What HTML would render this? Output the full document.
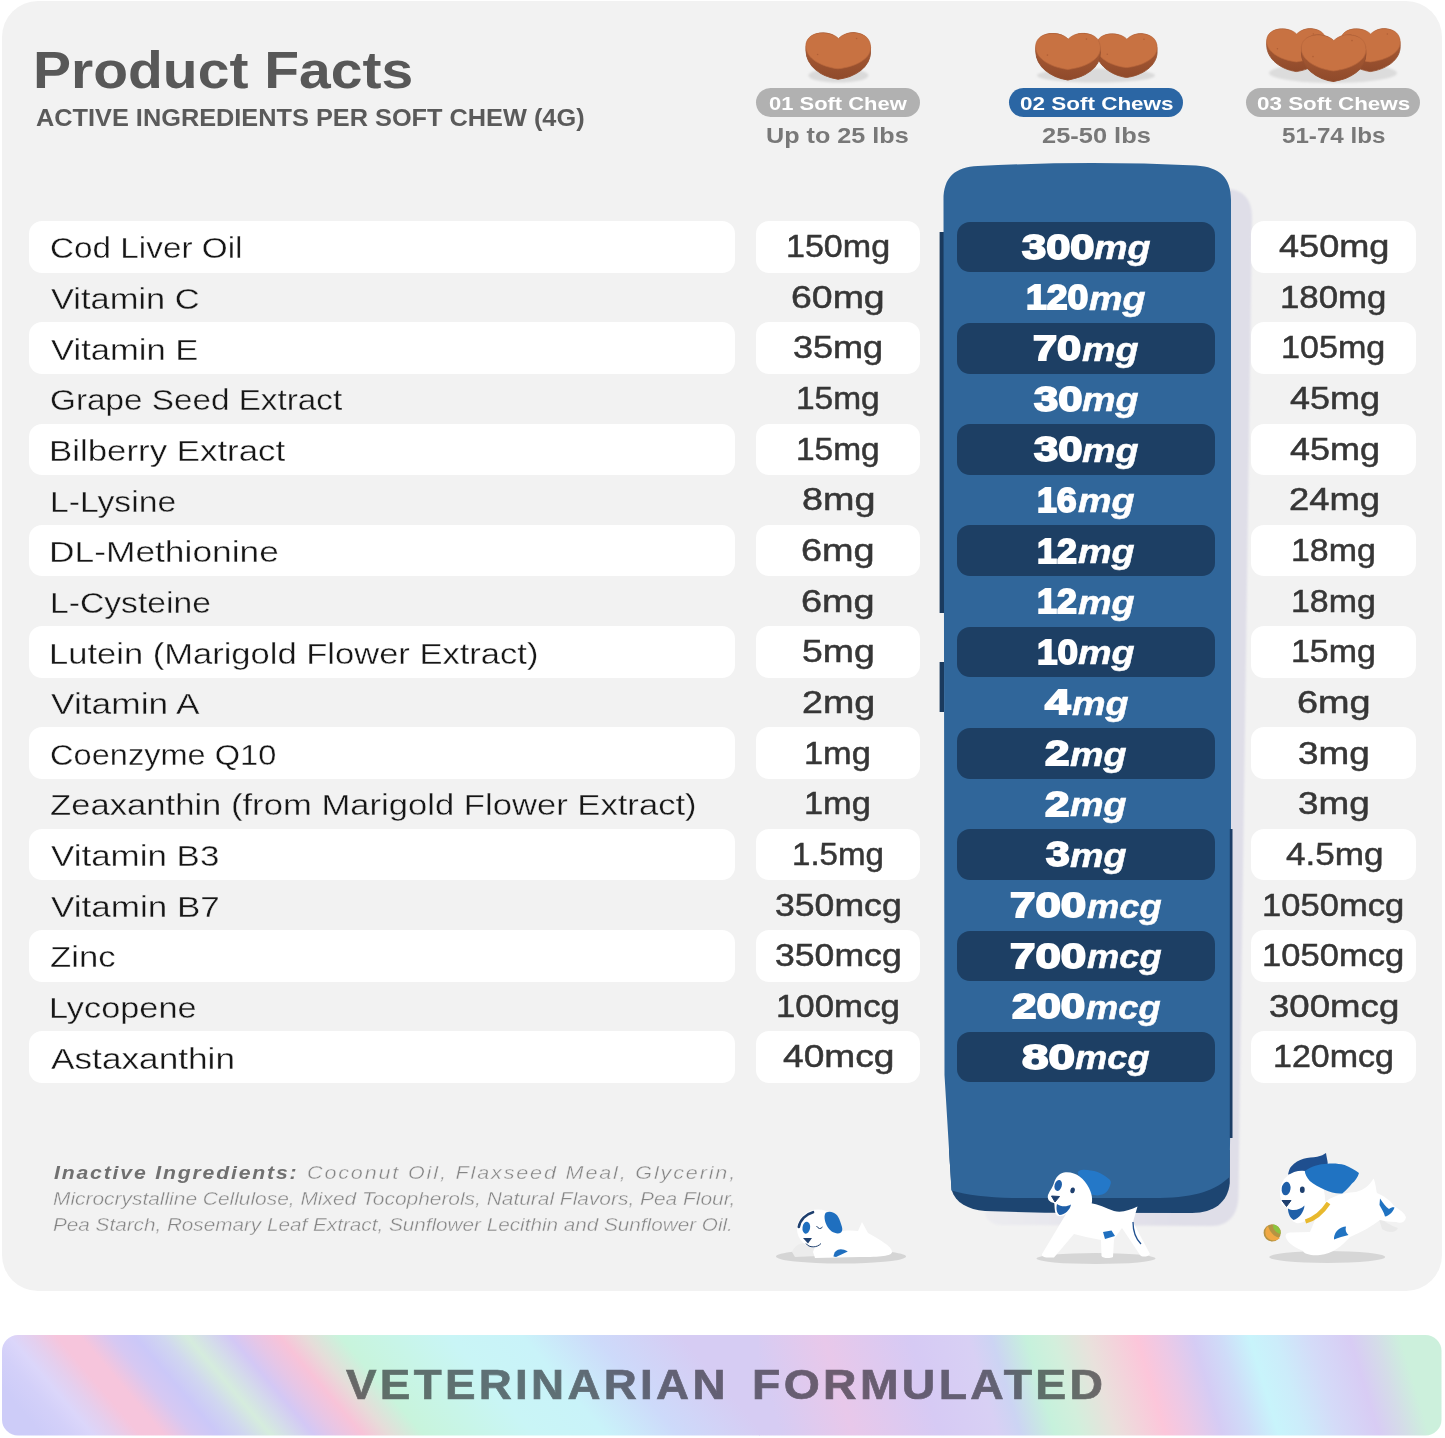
<!DOCTYPE html>
<html><head><meta charset="utf-8"><title>Product Facts</title>
<style>
html,body{margin:0;padding:0;background:#fff}
#pg{position:relative;width:1445px;height:1438px;overflow:hidden;background:#fff;font-family:"Liberation Sans",sans-serif}
.t{position:absolute;white-space:pre;line-height:1;transform-origin:0 0;margin:0}
.ra{-webkit-text-stroke:0.35px #fff}
.rb{-webkit-text-stroke:0.35px #f2f2f2}
.r2{-webkit-text-stroke:0.5px #363636}
.b{-webkit-text-stroke:1.8px #fff}
.v{opacity:0.56;-webkit-text-stroke:0.7px #0c0a10}
.b2{-webkit-text-stroke:0.5px #fff}
.p{position:absolute;background:#fff;border-radius:13px}
.d{position:absolute;background:#1d3f64;border-radius:13px}
#panel{position:absolute;left:2px;top:1px;width:1440px;height:1289.5px;border-radius:36px;background:#f2f2f2}
svg{position:absolute;left:0;top:0}
</style></head><body><div id="pg">
<div id="panel"></div>

<svg width="1445" height="1438" viewBox="0 0 1445 1438">
<defs><linearGradient id="sg" gradientUnits="userSpaceOnUse" x1="985" y1="0" x2="1180" y2="0"><stop offset="0" stop-color="#ececf0"/><stop offset="1" stop-color="#dfdee8"/></linearGradient><filter id="sb" x="-10%" y="-5%" width="120%" height="110%"><feGaussianBlur stdDeviation="1"/></filter></defs>
<!-- shadow of column -->
<path d="M1200,189 L1228,189 C1244,190 1252,200 1252,218 L1238.5,1196 C1238,1214 1229,1226 1212,1226 L1000,1225 C990,1224 985,1218 985,1212 L1200,1100 Z" fill="url(#sg)" filter="url(#sb)"/>
<!-- dark base -->
<path d="M951,1150 L1229.8,1150 L1229.8,1183 C1228,1202 1214,1213 1192,1213 L1045,1212.8 L985,1211 C968,1209.5 955.5,1203 951.6,1190 L949,1150 Z" fill="#1d4571"/>
<!-- left dark edge -->
<rect x="939.6" y="232" width="4.5" height="381" fill="#1a3a5e"/><rect x="939.6" y="662" width="4.5" height="50" fill="#1a3a5e"/>
<!-- main blue -->
<path d="M943.5,200 C943.5,177 955,167 978,166 Q1087,160.5 1196,165.5 C1220,167 1231,178 1231,200 L1231,1080 L1229.5,1177 C1216,1190 1196,1197.5 1160,1198 L1012,1198 C988,1197.5 966,1195 951.5,1190.5 L944.5,1075 Z" fill="#30669a"/>
<rect x="1229.8" y="829" width="2.7" height="309" fill="#1c3d66"/>
</svg>

<div class="p" style="left:28.6px;top:221.0px;width:706.7px;height:51.7px"></div>
<div class="p" style="left:755.8px;top:221.0px;width:164.4px;height:51.7px"></div>
<div class="p" style="left:1251.4px;top:221.0px;width:164.9px;height:51.7px"></div>
<div class="d" style="left:956.6px;top:221.6px;width:258.8px;height:50.7px"></div>
<div class="p" style="left:28.6px;top:322.3px;width:706.7px;height:51.7px"></div>
<div class="p" style="left:755.8px;top:322.3px;width:164.4px;height:51.7px"></div>
<div class="p" style="left:1251.4px;top:322.3px;width:164.9px;height:51.7px"></div>
<div class="d" style="left:956.6px;top:322.9px;width:258.8px;height:50.7px"></div>
<div class="p" style="left:28.6px;top:423.6px;width:706.7px;height:51.7px"></div>
<div class="p" style="left:755.8px;top:423.6px;width:164.4px;height:51.7px"></div>
<div class="p" style="left:1251.4px;top:423.6px;width:164.9px;height:51.7px"></div>
<div class="d" style="left:956.6px;top:424.2px;width:258.8px;height:50.7px"></div>
<div class="p" style="left:28.6px;top:524.8px;width:706.7px;height:51.7px"></div>
<div class="p" style="left:755.8px;top:524.8px;width:164.4px;height:51.7px"></div>
<div class="p" style="left:1251.4px;top:524.8px;width:164.9px;height:51.7px"></div>
<div class="d" style="left:956.6px;top:525.4px;width:258.8px;height:50.7px"></div>
<div class="p" style="left:28.6px;top:626.1px;width:706.7px;height:51.7px"></div>
<div class="p" style="left:755.8px;top:626.1px;width:164.4px;height:51.7px"></div>
<div class="p" style="left:1251.4px;top:626.1px;width:164.9px;height:51.7px"></div>
<div class="d" style="left:956.6px;top:626.7px;width:258.8px;height:50.7px"></div>
<div class="p" style="left:28.6px;top:727.4px;width:706.7px;height:51.7px"></div>
<div class="p" style="left:755.8px;top:727.4px;width:164.4px;height:51.7px"></div>
<div class="p" style="left:1251.4px;top:727.4px;width:164.9px;height:51.7px"></div>
<div class="d" style="left:956.6px;top:728.0px;width:258.8px;height:50.7px"></div>
<div class="p" style="left:28.6px;top:828.7px;width:706.7px;height:51.7px"></div>
<div class="p" style="left:755.8px;top:828.7px;width:164.4px;height:51.7px"></div>
<div class="p" style="left:1251.4px;top:828.7px;width:164.9px;height:51.7px"></div>
<div class="d" style="left:956.6px;top:829.3px;width:258.8px;height:50.7px"></div>
<div class="p" style="left:28.6px;top:930.0px;width:706.7px;height:51.7px"></div>
<div class="p" style="left:755.8px;top:930.0px;width:164.4px;height:51.7px"></div>
<div class="p" style="left:1251.4px;top:930.0px;width:164.9px;height:51.7px"></div>
<div class="d" style="left:956.6px;top:930.6px;width:258.8px;height:50.7px"></div>
<div class="p" style="left:28.6px;top:1031.2px;width:706.7px;height:51.7px"></div>
<div class="p" style="left:755.8px;top:1031.2px;width:164.4px;height:51.7px"></div>
<div class="p" style="left:1251.4px;top:1031.2px;width:164.9px;height:51.7px"></div>
<div class="d" style="left:956.6px;top:1031.8px;width:258.8px;height:50.7px"></div>
<div style="position:absolute;left:756.2px;top:87.8px;width:163.8px;height:28.8px;border-radius:15px;background:#b1b1b1"></div>
<div style="position:absolute;left:1009.2px;top:87.8px;width:174px;height:29px;border-radius:15px;background:#2b66a4"></div>
<div style="position:absolute;left:1246.4px;top:87.8px;width:174px;height:29px;border-radius:15px;background:#b1b1b1"></div>
<svg width="1445" height="1438" viewBox="0 0 1445 1438">
<defs>
<linearGradient id="gL" gradientUnits="userSpaceOnUse" x1="0" y1="1385" x2="838.9" y2="671.9">
<stop offset="0" stop-color="#cdccf8"/>
<stop offset="0.02" stop-color="#d3d0f9"/>
<stop offset="0.035" stop-color="#dbd6fa"/>
<stop offset="0.05" stop-color="#e4cfee"/>
<stop offset="0.068" stop-color="#f6c5dc"/>
<stop offset="0.084" stop-color="#f6c5dc"/>
<stop offset="0.105" stop-color="#d6c8f2"/>
<stop offset="0.122" stop-color="#cbc8f8"/>
<stop offset="0.140" stop-color="#d0d6f0"/>
<stop offset="0.158" stop-color="#d5ecdd"/>
<stop offset="0.172" stop-color="#d4dcea"/>
<stop offset="0.188" stop-color="#d3c8f5"/>
<stop offset="0.204" stop-color="#e6c6e6"/>
<stop offset="0.222" stop-color="#f8c3d8"/>
<stop offset="0.240" stop-color="#e6dcd9"/>
<stop offset="0.264" stop-color="#c8f4dc"/>
<stop offset="0.30" stop-color="#c8f5e8"/>
<stop offset="0.34" stop-color="#c9f5f6"/>
<stop offset="0.39" stop-color="#c9f3f9"/>
<stop offset="0.44" stop-color="#cddafa"/>
<stop offset="0.50" stop-color="#d6ccf3"/>
<stop offset="1" stop-color="#d6ccf3"/>
</linearGradient>
<linearGradient id="gR" gradientUnits="userSpaceOnUse" x1="0" y1="1385" x2="1325.7" y2="987.3">
<stop offset="0" stop-color="#d6ccf3"/>
<stop offset="0.53" stop-color="#d6ccf3"/>
<stop offset="0.58" stop-color="#e8c8ea"/>
<stop offset="0.64" stop-color="#d6caf4"/>
<stop offset="0.68" stop-color="#d8d0f4"/>
<stop offset="0.696" stop-color="#ccd4f3"/>
<stop offset="0.72" stop-color="#c6f1dc"/>
<stop offset="0.738" stop-color="#d2efdc"/>
<stop offset="0.762" stop-color="#e9e1dc"/>
<stop offset="0.7965" stop-color="#fcc6da"/>
<stop offset="0.815" stop-color="#ecc9e6"/>
<stop offset="0.8356" stop-color="#d5ccf4"/>
<stop offset="0.855" stop-color="#cfdcf8"/>
<stop offset="0.8747" stop-color="#c8f4fb"/>
<stop offset="0.893" stop-color="#ccecfa"/>
<stop offset="0.916" stop-color="#d4dbf8"/>
<stop offset="0.944" stop-color="#d8ccf4"/>
<stop offset="0.962" stop-color="#d4dce8"/>
<stop offset="0.979" stop-color="#ccf0dc"/>
<stop offset="1" stop-color="#ccf0dc"/>
</linearGradient>
<clipPath id="bc"><rect x="2" y="1335" width="1439.5" height="100.5" rx="16" ry="16"/></clipPath>
</defs>
<g clip-path="url(#bc)">
<rect x="0" y="1330" width="760" height="110" fill="url(#gL)"/>
<rect x="759" y="1330" width="690" height="110" fill="url(#gR)"/>
</g>
</svg>

<svg width="1445" height="1438" viewBox="0 0 1445 1438">
<defs>
<linearGradient id="hs" x1="0" y1="0" x2="0" y2="1"><stop offset="0.3" stop-color="#a85a34"/><stop offset="1" stop-color="#8f4a2b"/></linearGradient>
<filter id="bl" x="-20%" y="-50%" width="140%" height="200%"><feGaussianBlur stdDeviation="1.3"/></filter>
<g id="heart">
<path d="M32.8,6 C28,1 20,0 14,0.6 C5,1.5 0,7 0.3,14 C0.5,26 16,34.5 32.5,36.3 C49,34.5 65,27 65,15 C65,7 60,1 49,0.3 C42,0 37,2 32.8,6 Z" fill="url(#hs)" stroke="#955030" stroke-width="0.8" transform="scale(1,1.29)"/>
<path d="M32.8,6 C28,1 20,0 14,0.6 C5,1.5 0,7 0.3,14 C0.5,26 16,34.5 32.5,36.3 C49,34.5 65,27 65,15 C65,7 60,1 49,0.3 C42,0 37,2 32.8,6 Z" fill="#c87242" stroke="#b9673c" stroke-width="0.7"/>
<circle cx="12" cy="22" r="0.8" fill="#b05f36"/><circle cx="51" cy="6" r="0.8" fill="#b05f36"/>
</g>
</defs>
<!-- hearts col1 -->
<ellipse cx="838.4" cy="75.5" rx="30" ry="7" fill="#dadada" filter="url(#bl)"/>
<use href="#heart" x="805.6" y="32.5"/>
<!-- hearts col2 -->
<ellipse cx="1096" cy="75.5" rx="59" ry="7" fill="#dadada" filter="url(#bl)"/>
<use href="#heart" transform="translate(1096,33.5) scale(0.94)"/>
<use href="#heart" x="1035.4" y="33.1"/>
<!-- hearts col3 -->
<ellipse cx="1333" cy="73" rx="64" ry="10" fill="#dcdcdc" filter="url(#bl)"/>
<use href="#heart" transform="translate(1266.4,28.5) scale(0.92)"/>
<use href="#heart" transform="translate(1340.4,28.5) scale(0.92)"/>
<use href="#heart" x="1301" y="34.6"/>

<!-- dog1 sleeping -->
<g>
<ellipse cx="841" cy="1256.5" rx="65" ry="7" fill="#d5d5d5"/>
<path d="M792,1252 C795,1243 806,1240 815,1246 L818,1256 L795,1257 Z" fill="#ececec"/>
<path d="M813,1252 C818,1236 840,1228 858,1231 L862,1222 L868,1233 C880,1240 892,1246 892,1252 C892,1256 880,1257 860,1257 L815,1258 Z" fill="#fff"/>
<ellipse cx="818" cy="1229" rx="21" ry="19.5" fill="#fff"/>
<path d="M826,1212.5 C832,1210 838,1214 840,1221 C842,1227 843.5,1230 841,1232.5 C837,1235 830,1232 827,1226 C824.5,1221 823.5,1215 826,1212.5 Z" fill="#1f6fbf"/>
<ellipse cx="806.3" cy="1227.7" rx="3.8" ry="6" fill="#1f6fbf" transform="rotate(8 806.3 1227.7)"/>
<path d="M798.8,1227 C800,1220 806,1214 813,1212.2" fill="none" stroke="#1e3f6e" stroke-width="2.6" stroke-linecap="round"/>
<path d="M816.5,1226 q3,4.5 6,1" fill="none" stroke="#1e3f6e" stroke-width="1"/>
<path d="M803,1238 L812,1238 L808,1243.5 Z" fill="#1e3f6e"/>
<path d="M806,1243.5 C809,1248 817,1248 821,1243.5" fill="none" stroke="#1e3f6e" stroke-width="1"/>
<path d="M833.5,1256.5 C834,1250 840,1246.5 847.8,1251.5 L836,1257 Z" fill="#1f6fbf"/>
</g>

<!-- dog2 standing -->
<g>
<ellipse cx="1096" cy="1258.5" rx="59.5" ry="5.5" fill="#d6d6d6"/>
<!-- body & legs -->
<path d="M1066,1214 L1042,1254 C1041,1257 1046,1258 1054,1257.5 L1074,1234 L1086,1237 L1101,1240 L1101.5,1256 C1103,1258.5 1110,1258.5 1113,1257 L1114,1239 L1122,1228 L1140,1255 C1142,1257.5 1148,1257 1150,1254 L1133,1222 L1137.5,1206.5 C1130,1210 1122,1213 1114,1211 C1106,1208 1098,1204 1090,1203 Z" fill="#fff"/>
<path d="M1133,1222 C1133,1232 1137,1240 1141,1244" fill="none" stroke="#1f4f8f" stroke-width="1.3"/>
<path d="M1077.6,1172.1 C1079,1170.5 1080.5,1169.9 1082,1169.9 C1087,1169.5 1092.5,1170.5 1097.5,1172.1 C1102,1174 1106,1176.5 1108.6,1178.8 C1110.5,1180.2 1111.2,1181.8 1110.8,1183.2 C1110,1186.5 1108.5,1189.8 1106.4,1192.1 C1104,1194.2 1100.8,1195.4 1097.5,1195.4 C1095,1195.4 1092.5,1195 1090.9,1194.3 L1080,1180 Z" fill="#2478c8"/>
<path d="M1064,1172.5 C1075,1171 1084,1178 1089,1188 C1093,1196 1093,1203 1090,1208 C1084,1214 1074,1216 1066,1214 C1062,1217 1058,1217 1056,1214 C1054,1210 1055,1204 1054,1203 C1049,1202 1047,1199 1048,1195 C1050,1190 1053,1187 1054,1183 C1056,1177 1059,1173.5 1064,1172.5 Z" fill="#fff"/>
<path d="M1057,1204 C1061,1207 1067,1207 1071,1204.5 C1070,1210 1065,1214.5 1059.5,1215 C1056.5,1213 1056,1208 1057,1204 Z" fill="#1f5fa8"/>
<ellipse cx="1058.2" cy="1185.4" rx="3.6" ry="5.6" fill="#1f5fa8" transform="rotate(15 1058.2 1185.4)"/>
<ellipse cx="1072.6" cy="1190.4" rx="2.2" ry="2.9" fill="#1e3f6e" transform="rotate(15 1072.6 1190.4)"/>
<path d="M1051.5,1196 L1059.5,1196.5 L1055,1202 Z" fill="#1e3f6e" stroke="#1e3f6e" stroke-width="1" stroke-linejoin="round"/>
<path d="M1103,1232 L1111.5,1230.5 L1115,1236 L1105,1239 Z" fill="#1f6fbf"/>
</g>

<!-- dog3 running -->
<g>
<ellipse cx="1327.2" cy="1257" rx="58" ry="6" fill="#d6d6d6"/>
<circle cx="1272.2" cy="1232.8" r="8.6" fill="#b59443"/>
<path d="M1268,1226 C1270,1232 1274,1237 1280,1238 C1276,1242 1269,1241 1266,1236 C1264.5,1232 1265.5,1228 1268,1226 Z" fill="#f0a844"/>
<path d="M1273,1224.5 C1278,1225 1281,1229 1280.5,1234 C1276,1233 1272.5,1229 1273,1224.5 Z" fill="#8cc43f"/>
<!-- rear far leg -->
<path d="M1378,1216 C1384,1222 1392,1226 1398,1228 C1396,1233 1388,1233 1382,1229 Z" fill="#e9e9e9"/>
<!-- body -->
<path d="M1320,1208 C1326,1198 1340,1193 1356,1192 C1364,1190 1370,1185 1373.5,1178.5 C1376,1184 1376,1190 1377,1193 C1384,1196 1390,1200 1394,1206 C1400,1210 1405,1213 1406,1217.5 C1405,1222 1401,1224 1396,1222 C1390,1222 1385,1221 1380,1220 C1372,1226 1362,1232 1350,1237 C1342,1246 1332,1254 1320,1255 C1312,1256 1304,1254 1303,1251 C1296,1248 1289,1244 1287,1239.5 C1284,1236 1286,1232 1291,1232.5 L1310,1232 Z" fill="#fff"/>
<!-- dark ear -->
<path d="M1288,1174.5 C1289,1170 1290,1168 1291,1166.8 C1295,1162 1299,1160 1303.5,1158.7 C1308,1157.5 1313,1157.5 1317.2,1156.8 C1321,1156 1324,1154.5 1326,1153 C1326.5,1157 1327.5,1160 1327.8,1163.7 L1306,1172 Z" fill="#1f4f8f"/>
<!-- head -->
<path d="M1287.5,1176 C1294,1170 1306,1169 1314,1174 C1322,1180 1326,1192 1325,1204 C1323,1213 1314,1220 1305,1221 C1300,1224 1295,1224 1292,1220 C1289,1216 1289,1210 1287,1207 C1282,1206 1280,1203 1281,1199 C1279,1194 1280,1186 1283,1181 C1284,1179 1285.5,1177.5 1287.5,1176 Z" fill="#fff"/>
<!-- blue ear -->
<path d="M1304.8,1171.1 C1311,1166 1319,1164 1327.2,1163.7 C1333,1163 1339,1163.5 1344.6,1164.9 C1350,1167 1355,1170 1359,1173 C1358,1177 1355,1181 1352,1183.6 C1349,1187 1346,1191 1342.2,1193.5 C1336,1194 1330,1192 1324.7,1189.8 C1319,1187.5 1314,1184.5 1309.8,1181.1 C1307,1178 1305,1174.5 1304.8,1171.1 Z" fill="#2073c2"/>
<!-- collar -->
<path d="M1328.5,1203 C1322,1213 1314,1219 1305.5,1221.5" fill="none" stroke="#e8b92e" stroke-width="4.4"/>
<!-- face -->
<ellipse cx="1286.1" cy="1188.6" rx="4.4" ry="6.8" fill="#1f5fa8" transform="rotate(8 1286.1 1188.6)"/>
<ellipse cx="1302.3" cy="1189.8" rx="2.4" ry="3.2" fill="#1e3f6e"/>
<path d="M1282,1200.5 L1291,1200.5 L1286.5,1206.5 Z" fill="#1e3f6e" stroke="#1e3f6e" stroke-width="1" stroke-linejoin="round"/>
<path d="M1288,1208.5 C1293,1211.5 1300,1210 1304.5,1205.5 C1304,1212 1299,1218.5 1293.5,1220 C1290,1218 1288,1213 1288,1208.5 Z" fill="#1f5fa8"/>
<!-- patches -->
<path d="M1380,1198.5 C1383,1203 1386,1207 1389,1209 C1391,1207.5 1393,1207 1394.5,1207.5 C1393,1212 1389,1216 1385,1216.5 C1384,1212 1381,1208 1379.5,1205 Z" fill="#2073c2"/>
<path d="M1334,1237.5 C1335,1231 1340,1227 1346,1226.5 C1345,1230 1346,1233 1348.5,1235 C1344,1236 1338,1238 1334,1239.5 Z" fill="#2073c2"/>
</g>
</svg>

<div class="t " style="left:32.79px;top:44.57px;font-size:51.30px;color:#585858;font-weight:700;transform:scaleX(1.1113)">Product Facts</div>
<div class="t " style="left:36.37px;top:107.18px;font-size:23.30px;color:#5a5a5a;font-weight:700;transform:scaleX(1.0867)">ACTIVE INGREDIENTS PER SOFT CHEW (4G)</div>
<div class="t " style="left:768.52px;top:93.65px;font-size:19.20px;color:#fff;font-weight:700;transform:scaleX(1.1435)">01 Soft Chew</div>
<div class="t " style="left:1019.70px;top:93.65px;font-size:19.20px;color:#fff;font-weight:700;transform:scaleX(1.1712)">02 Soft Chews</div>
<div class="t " style="left:1257.20px;top:93.65px;font-size:19.20px;color:#fff;font-weight:700;transform:scaleX(1.1681)">03 Soft Chews</div>
<div class="t " style="left:766.29px;top:125.08px;font-size:22.00px;color:#787878;font-weight:700;transform:scaleX(1.1443)">Up to 25 lbs</div>
<div class="t " style="left:1041.71px;top:125.08px;font-size:22.00px;color:#787878;font-weight:700;transform:scaleX(1.1556)">25-50 lbs</div>
<div class="t " style="left:1281.98px;top:125.08px;font-size:22.00px;color:#787878;font-weight:700;transform:scaleX(1.0980)">51-74 lbs</div>
<div class="t ra" style="left:49.56px;top:233.44px;font-size:29.60px;color:#161616;font-weight:400;transform:scaleX(1.1250)">Cod Liver Oil</div>
<div class="t r2" style="left:785.80px;top:231.19px;font-size:31.20px;color:#363636;font-weight:400;transform:scaleX(1.0918)">150mg</div>
<div class="t b" style="left:1021.61px;top:229.71px;font-size:34.60px;color:#fff;font-weight:700;transform:scaleX(1.2572)">300</div>
<div class="t b2" style="left:1094.48px;top:230.22px;font-size:34.00px;color:#fff;font-weight:700;font-style:italic;transform:scaleX(1.1104)">mg</div>
<div class="t r2" style="left:1279.43px;top:231.19px;font-size:31.20px;color:#363636;font-weight:400;transform:scaleX(1.1579)">450mg</div>
<div class="t rb" style="left:51.05px;top:284.08px;font-size:29.60px;color:#161616;font-weight:400;transform:scaleX(1.1645)">Vitamin C</div>
<div class="t r2" style="left:791.48px;top:281.83px;font-size:31.20px;color:#363636;font-weight:400;transform:scaleX(1.2001)">60mg</div>
<div class="t b" style="left:1025.95px;top:280.35px;font-size:34.60px;color:#fff;font-weight:700;transform:scaleX(1.0822)">120</div>
<div class="t b2" style="left:1088.98px;top:280.86px;font-size:34.00px;color:#fff;font-weight:700;font-style:italic;transform:scaleX(1.1104)">mg</div>
<div class="t r2" style="left:1280.44px;top:281.83px;font-size:31.20px;color:#363636;font-weight:400;transform:scaleX(1.1160)">180mg</div>
<div class="t ra" style="left:51.05px;top:334.72px;font-size:29.60px;color:#161616;font-weight:400;transform:scaleX(1.1690)">Vitamin E</div>
<div class="t r2" style="left:793.41px;top:332.47px;font-size:31.20px;color:#363636;font-weight:400;transform:scaleX(1.1549)">35mg</div>
<div class="t b" style="left:1033.47px;top:330.99px;font-size:34.60px;color:#fff;font-weight:700;transform:scaleX(1.2515)">70</div>
<div class="t b2" style="left:1081.98px;top:331.50px;font-size:34.00px;color:#fff;font-weight:700;font-style:italic;transform:scaleX(1.1104)">mg</div>
<div class="t r2" style="left:1281.49px;top:332.47px;font-size:31.20px;color:#363636;font-weight:400;transform:scaleX(1.0940)">105mg</div>
<div class="t rb" style="left:49.56px;top:385.36px;font-size:29.60px;color:#161616;font-weight:400;transform:scaleX(1.1243)">Grape Seed Extract</div>
<div class="t r2" style="left:795.99px;top:383.11px;font-size:31.20px;color:#363636;font-weight:400;transform:scaleX(1.0729)">15mg</div>
<div class="t b" style="left:1033.61px;top:381.63px;font-size:34.60px;color:#fff;font-weight:700;transform:scaleX(1.2612)">30</div>
<div class="t b2" style="left:1082.48px;top:382.14px;font-size:34.00px;color:#fff;font-weight:700;font-style:italic;transform:scaleX(1.1104)">mg</div>
<div class="t r2" style="left:1289.68px;top:383.11px;font-size:31.20px;color:#363636;font-weight:400;transform:scaleX(1.1520)">45mg</div>
<div class="t ra" style="left:49.44px;top:436.00px;font-size:29.60px;color:#161616;font-weight:400;transform:scaleX(1.1769)">Bilberry Extract</div>
<div class="t r2" style="left:795.99px;top:433.75px;font-size:31.20px;color:#363636;font-weight:400;transform:scaleX(1.0729)">15mg</div>
<div class="t b" style="left:1033.61px;top:432.27px;font-size:34.60px;color:#fff;font-weight:700;transform:scaleX(1.2612)">30</div>
<div class="t b2" style="left:1082.48px;top:432.78px;font-size:34.00px;color:#fff;font-weight:700;font-style:italic;transform:scaleX(1.1104)">mg</div>
<div class="t r2" style="left:1289.68px;top:433.75px;font-size:31.20px;color:#363636;font-weight:400;transform:scaleX(1.1520)">45mg</div>
<div class="t rb" style="left:49.53px;top:486.64px;font-size:29.60px;color:#161616;font-weight:400;transform:scaleX(1.1397)">L-Lysine</div>
<div class="t r2" style="left:801.65px;top:484.39px;font-size:31.20px;color:#363636;font-weight:400;transform:scaleX(1.2104)">8mg</div>
<div class="t b" style="left:1037.26px;top:482.91px;font-size:34.60px;color:#fff;font-weight:700;transform:scaleX(1.0308)">16</div>
<div class="t b2" style="left:1077.78px;top:483.42px;font-size:34.00px;color:#fff;font-weight:700;font-style:italic;transform:scaleX(1.1104)">mg</div>
<div class="t r2" style="left:1288.58px;top:484.39px;font-size:31.20px;color:#363636;font-weight:400;transform:scaleX(1.1665)">24mg</div>
<div class="t ra" style="left:49.40px;top:537.28px;font-size:29.60px;color:#161616;font-weight:400;transform:scaleX(1.1943)">DL-Methionine</div>
<div class="t r2" style="left:801.46px;top:535.03px;font-size:31.20px;color:#363636;font-weight:400;transform:scaleX(1.2137)">6mg</div>
<div class="t b" style="left:1037.25px;top:533.55px;font-size:34.60px;color:#fff;font-weight:700;transform:scaleX(1.0359)">12</div>
<div class="t b2" style="left:1077.78px;top:534.06px;font-size:34.00px;color:#fff;font-weight:700;font-style:italic;transform:scaleX(1.1104)">mg</div>
<div class="t r2" style="left:1291.26px;top:535.03px;font-size:31.20px;color:#363636;font-weight:400;transform:scaleX(1.0865)">18mg</div>
<div class="t rb" style="left:49.53px;top:587.92px;font-size:29.60px;color:#161616;font-weight:400;transform:scaleX(1.1376)">L-Cysteine</div>
<div class="t r2" style="left:801.46px;top:585.67px;font-size:31.20px;color:#363636;font-weight:400;transform:scaleX(1.2137)">6mg</div>
<div class="t b" style="left:1037.25px;top:584.19px;font-size:34.60px;color:#fff;font-weight:700;transform:scaleX(1.0359)">12</div>
<div class="t b2" style="left:1077.78px;top:584.70px;font-size:34.00px;color:#fff;font-weight:700;font-style:italic;transform:scaleX(1.1104)">mg</div>
<div class="t r2" style="left:1291.26px;top:585.67px;font-size:31.20px;color:#363636;font-weight:400;transform:scaleX(1.0865)">18mg</div>
<div class="t ra" style="left:49.46px;top:638.56px;font-size:29.60px;color:#161616;font-weight:400;transform:scaleX(1.1670)">Lutein (Marigold Flower Extract)</div>
<div class="t r2" style="left:802.10px;top:636.31px;font-size:31.20px;color:#363636;font-weight:400;transform:scaleX(1.1984)">5mg</div>
<div class="t b" style="left:1036.69px;top:634.83px;font-size:34.60px;color:#fff;font-weight:700;transform:scaleX(1.0645)">10</div>
<div class="t b2" style="left:1078.28px;top:635.34px;font-size:34.00px;color:#fff;font-weight:700;font-style:italic;transform:scaleX(1.1104)">mg</div>
<div class="t r2" style="left:1291.26px;top:636.31px;font-size:31.20px;color:#363636;font-weight:400;transform:scaleX(1.0865)">15mg</div>
<div class="t rb" style="left:51.05px;top:689.20px;font-size:29.60px;color:#161616;font-weight:400;transform:scaleX(1.1933)">Vitamin A</div>
<div class="t r2" style="left:801.72px;top:686.95px;font-size:31.20px;color:#363636;font-weight:400;transform:scaleX(1.2050)">2mg</div>
<div class="t b" style="left:1044.56px;top:685.47px;font-size:34.60px;color:#fff;font-weight:700;transform:scaleX(1.3235)">4</div>
<div class="t b2" style="left:1071.93px;top:685.98px;font-size:34.00px;color:#fff;font-weight:700;font-style:italic;transform:scaleX(1.1104)">mg</div>
<div class="t r2" style="left:1297.26px;top:686.95px;font-size:31.20px;color:#363636;font-weight:400;transform:scaleX(1.2137)">6mg</div>
<div class="t ra" style="left:49.60px;top:739.84px;font-size:29.60px;color:#161616;font-weight:400;transform:scaleX(1.1009)">Coenzyme Q10</div>
<div class="t r2" style="left:804.42px;top:737.59px;font-size:31.20px;color:#363636;font-weight:400;transform:scaleX(1.1009)">1mg</div>
<div class="t b" style="left:1045.41px;top:736.11px;font-size:34.60px;color:#fff;font-weight:700;transform:scaleX(1.2705)">2</div>
<div class="t b2" style="left:1070.23px;top:736.62px;font-size:34.00px;color:#fff;font-weight:700;font-style:italic;transform:scaleX(1.1104)">mg</div>
<div class="t r2" style="left:1298.43px;top:737.59px;font-size:31.20px;color:#363636;font-weight:400;transform:scaleX(1.1810)">3mg</div>
<div class="t rb" style="left:50.19px;top:790.48px;font-size:29.60px;color:#161616;font-weight:400;transform:scaleX(1.1702)">Zeaxanthin (from Marigold Flower Extract)</div>
<div class="t r2" style="left:804.42px;top:788.23px;font-size:31.20px;color:#363636;font-weight:400;transform:scaleX(1.1009)">1mg</div>
<div class="t b" style="left:1045.41px;top:786.75px;font-size:34.60px;color:#fff;font-weight:700;transform:scaleX(1.2705)">2</div>
<div class="t b2" style="left:1070.23px;top:787.26px;font-size:34.00px;color:#fff;font-weight:700;font-style:italic;transform:scaleX(1.1104)">mg</div>
<div class="t r2" style="left:1298.43px;top:788.23px;font-size:31.20px;color:#363636;font-weight:400;transform:scaleX(1.1810)">3mg</div>
<div class="t ra" style="left:51.05px;top:841.12px;font-size:29.60px;color:#161616;font-weight:400;transform:scaleX(1.1810)">Vitamin B3</div>
<div class="t r2" style="left:791.87px;top:838.87px;font-size:31.20px;color:#363636;font-weight:400;transform:scaleX(1.0599)">1.5mg</div>
<div class="t b" style="left:1045.88px;top:837.39px;font-size:34.60px;color:#fff;font-weight:700;transform:scaleX(1.2320)">3</div>
<div class="t b2" style="left:1070.23px;top:837.90px;font-size:34.00px;color:#fff;font-weight:700;font-style:italic;transform:scaleX(1.1104)">mg</div>
<div class="t r2" style="left:1285.80px;top:838.87px;font-size:31.20px;color:#363636;font-weight:400;transform:scaleX(1.1251)">4.5mg</div>
<div class="t rb" style="left:51.05px;top:891.76px;font-size:29.60px;color:#161616;font-weight:400;transform:scaleX(1.1835)">Vitamin B7</div>
<div class="t r2" style="left:775.13px;top:889.51px;font-size:31.20px;color:#363636;font-weight:400;transform:scaleX(1.1418)">350mcg</div>
<div class="t b" style="left:1010.47px;top:888.03px;font-size:34.60px;color:#fff;font-weight:700;transform:scaleX(1.3202)">700</div>
<div class="t b2" style="left:1086.91px;top:888.54px;font-size:34.00px;color:#fff;font-weight:700;font-style:italic;transform:scaleX(1.0675)">mcg</div>
<div class="t r2" style="left:1262.46px;top:889.51px;font-size:31.20px;color:#363636;font-weight:400;transform:scaleX(1.1087)">1050mcg</div>
<div class="t ra" style="left:50.18px;top:942.40px;font-size:29.60px;color:#161616;font-weight:400;transform:scaleX(1.1718)">Zinc</div>
<div class="t r2" style="left:775.13px;top:940.15px;font-size:31.20px;color:#363636;font-weight:400;transform:scaleX(1.1418)">350mcg</div>
<div class="t b" style="left:1010.47px;top:938.67px;font-size:34.60px;color:#fff;font-weight:700;transform:scaleX(1.3202)">700</div>
<div class="t b2" style="left:1086.91px;top:939.18px;font-size:34.00px;color:#fff;font-weight:700;font-style:italic;transform:scaleX(1.0675)">mcg</div>
<div class="t r2" style="left:1262.46px;top:940.15px;font-size:31.20px;color:#363636;font-weight:400;transform:scaleX(1.1087)">1050mcg</div>
<div class="t rb" style="left:49.48px;top:993.04px;font-size:29.60px;color:#161616;font-weight:400;transform:scaleX(1.1600)">Lycopene</div>
<div class="t r2" style="left:775.89px;top:990.79px;font-size:31.20px;color:#363636;font-weight:400;transform:scaleX(1.1169)">100mcg</div>
<div class="t b" style="left:1012.01px;top:989.31px;font-size:34.60px;color:#fff;font-weight:700;transform:scaleX(1.2706)">200</div>
<div class="t b2" style="left:1085.66px;top:989.82px;font-size:34.00px;color:#fff;font-weight:700;font-style:italic;transform:scaleX(1.0675)">mcg</div>
<div class="t r2" style="left:1269.13px;top:990.79px;font-size:31.20px;color:#363636;font-weight:400;transform:scaleX(1.1743)">300mcg</div>
<div class="t ra" style="left:51.23px;top:1043.68px;font-size:29.60px;color:#161616;font-weight:400;transform:scaleX(1.1900)">Astaxanthin</div>
<div class="t r2" style="left:783.11px;top:1041.43px;font-size:31.20px;color:#363636;font-weight:400;transform:scaleX(1.1908)">40mcg</div>
<div class="t b" style="left:1022.32px;top:1039.95px;font-size:34.60px;color:#fff;font-weight:700;transform:scaleX(1.3756)">80</div>
<div class="t b2" style="left:1075.46px;top:1040.46px;font-size:34.00px;color:#fff;font-weight:700;font-style:italic;transform:scaleX(1.0675)">mcg</div>
<div class="t r2" style="left:1273.20px;top:1041.43px;font-size:31.20px;color:#363636;font-weight:400;transform:scaleX(1.0896)">120mcg</div>
<div class="t " style="left:53.88px;top:1164.46px;font-size:18.60px;color:#707070;font-weight:700;font-style:italic;letter-spacing:1.60px;transform:scaleX(1.1400)">Inactive Ingredients:</div>
<div class="t rb" style="left:307.47px;top:1164.46px;font-size:18.60px;color:#858585;font-weight:400;font-style:italic;letter-spacing:1.60px;transform:scaleX(1.1581)">Coconut Oil, Flaxseed Meal, Glycerin,</div>
<div class="t rb" style="left:53.12px;top:1190.26px;font-size:18.60px;color:#858585;font-weight:400;font-style:italic;transform:scaleX(1.1241)">Microcrystalline Cellulose, Mixed Tocopherols, Natural Flavors, Pea Flour,</div>
<div class="t rb" style="left:53.13px;top:1216.06px;font-size:18.60px;color:#858585;font-weight:400;font-style:italic;transform:scaleX(1.1131)">Pea Starch, Rosemary Leaf Extract, Sunflower Lecithin and Sunflower Oil.</div>
<div class="t v" style="left:345.62px;top:1364.39px;font-size:41.60px;color:#0c0a10;font-weight:700;letter-spacing:3.00px;transform:scaleX(1.1000)">VETERINARIAN</div>
<div class="t v" style="left:751.84px;top:1364.39px;font-size:41.60px;color:#0c0a10;font-weight:700;letter-spacing:3.00px;transform:scaleX(1.1145)">FORMULATED</div>
</div></body></html>
